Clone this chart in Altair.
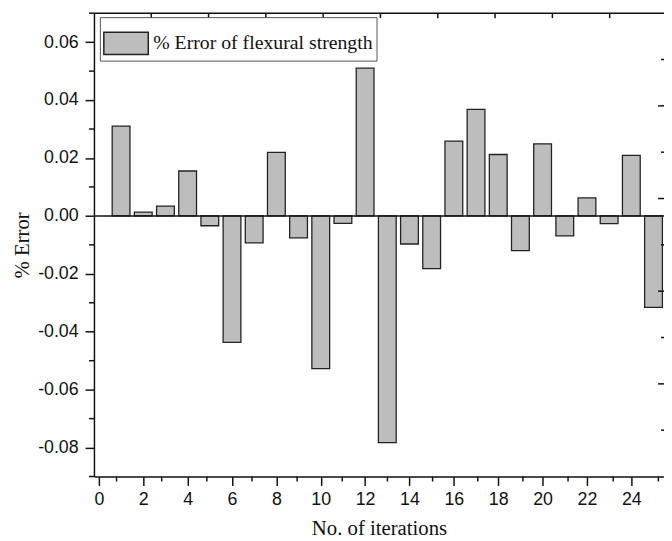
import altair as alt
import pandas as pd

# ---- data ----
iterations = list(range(1, 26))
errors = [0.0310, 0.0013, 0.0034, 0.0155, -0.0034, -0.0437, -0.0093, 0.0219,
          -0.0076, -0.0527, -0.0026, 0.0510, -0.0783, -0.0097, -0.0182, 0.0258,
          0.0368, 0.0212, -0.0120, 0.0249, -0.0069, 0.0062, -0.0027, 0.0209,
          -0.0316]
series_name = "% Error of flexural strength"

x_major = [0, 2, 4, 6, 8, 10, 12, 14, 16, 18, 20, 22, 24]
x_minor = [1, 3, 5, 7, 9, 11, 13, 15, 17, 19, 21, 23, 25]
y_major = [-0.08, -0.06, -0.04, -0.02, 0.0, 0.02, 0.04, 0.06]
y_minor = [-0.09, -0.07, -0.05, -0.03, -0.01, 0.01, 0.03, 0.05, 0.07]
top_ticks = [1, 2, 3, 4, 5, 6, 7, 8, 9]          # ticks of the (cropped) top frame
right_major = [2, 4, 6, 8]                        # ticks of the (cropped) right frame
right_minor = [1, 3, 5, 7, 9]

W, H = 577, 469
X_DOMAIN = [0, 25.25]
Y_DOMAIN = [-0.09, 0.07]
TOP_DOMAIN = [0, 9.948]

bars_df = pd.DataFrame({"it": iterations, "err": errors, "series": series_name})

xs = alt.Scale(domain=X_DOMAIN, nice=False, zero=False)
ys = alt.Scale(domain=Y_DOMAIN, nice=False, zero=False)

label_expr = "datum.value < 0 ? '-' + format(-datum.value, '.2f') : format(datum.value, '.2f')"

bars = alt.Chart(bars_df).mark_bar(
    size=18, clip=True, stroke="#222222", strokeWidth=1.3, opacity=1
).encode(
    x=alt.X("it:Q", scale=xs, axis=alt.Axis(
        values=x_major, format="d", title="No. of iterations",
        tickSize=9, labelPadding=5, titlePadding=10, grid=False)),
    y=alt.Y("err:Q", scale=ys, axis=alt.Axis(
        values=y_major, labelExpr=label_expr, title="% Error",
        tickSize=9, labelPadding=7, titlePadding=5, grid=False)),
    color=alt.Color("series:N", scale=alt.Scale(range=["#BDBDBD"]),
                    legend=alt.Legend(title=None, orient="none", legendX=6, legendY=4)),
)

zero_line = alt.Chart(pd.DataFrame({"z": [0.0]})).mark_rule(
    color="#111111", strokeWidth=1.5
).encode(y=alt.Y("z:Q", scale=ys, axis=None))

top_line = alt.Chart(pd.DataFrame({"a": [0]})).mark_rule(
    color="#111111", strokeWidth=1.5
).encode(y=alt.value(0), x=alt.value(0), x2=alt.value(W))

y_minor_ticks = alt.Chart(pd.DataFrame({"v": y_minor})).mark_rule(
    color="#111111", strokeWidth=1.5
).encode(y=alt.Y("v:Q", scale=ys, axis=None), x=alt.value(-5), x2=alt.value(0))

x_minor_ticks = alt.Chart(pd.DataFrame({"v": x_minor})).mark_rule(
    color="#111111", strokeWidth=1.5
).encode(x=alt.X("v:Q", scale=xs, axis=None), y=alt.value(H), y2=alt.value(H + 5))

top_tick_marks = alt.Chart(pd.DataFrame({"t": top_ticks})).mark_rule(
    color="#111111", strokeWidth=1.5
).encode(x=alt.X("t:Q", scale=alt.Scale(domain=TOP_DOMAIN, nice=False, zero=False), axis=None),
         y=alt.value(0), y2=alt.value(5))

right_major_marks = alt.Chart(pd.DataFrame({"r": right_major})).mark_rule(
    color="#111111", strokeWidth=1.5
).encode(y=alt.Y("r:Q", scale=alt.Scale(domain=[0, 10], nice=False, zero=False), axis=None),
         x=alt.value(W - 6), x2=alt.value(W))

right_minor_marks = alt.Chart(pd.DataFrame({"r": right_minor})).mark_rule(
    color="#111111", strokeWidth=1.5
).encode(y=alt.Y("r:Q", scale=alt.Scale(domain=[0, 10], nice=False, zero=False), axis=None),
         x=alt.value(W - 3), x2=alt.value(W))

chart = alt.layer(
    bars, zero_line, top_line, y_minor_ticks, x_minor_ticks,
    top_tick_marks, right_major_marks, right_minor_marks
).resolve_scale(
    x="independent", y="independent"
).properties(
    width=W, height=H,
    padding={"left": 87, "top": 2, "right": 0, "bottom": 62},
    autosize=alt.AutoSizeParams(type="none"),
    background="white",
).configure_view(
    stroke=None
).configure_axis(
    domainColor="#111111", domainWidth=1.5,
    tickColor="#111111", tickWidth=1.5,
    labelFont="Liberation Sans", labelFontSize=18, labelColor="#111111",
    titleFont="Liberation Serif", titleFontSize=21, titleFontWeight="normal",
    titleColor="#111111",
).configure_legend(
    symbolType="M-1,-0.5H1V0.5H-1Z", symbolSize=2025,
    symbolStrokeColor="#222222", symbolStrokeWidth=1.5, symbolOpacity=1,
    symbolFillColor="#BDBDBD",
    labelFont="Liberation Serif", labelFontSize=20, labelColor="#111111",
    labelOffset=4, labelLimit=400,
    strokeColor="#555555", fillColor="white", padding=3,
)

chart.save("out.html", embed_options={"renderer": "svg", "actions": False})
